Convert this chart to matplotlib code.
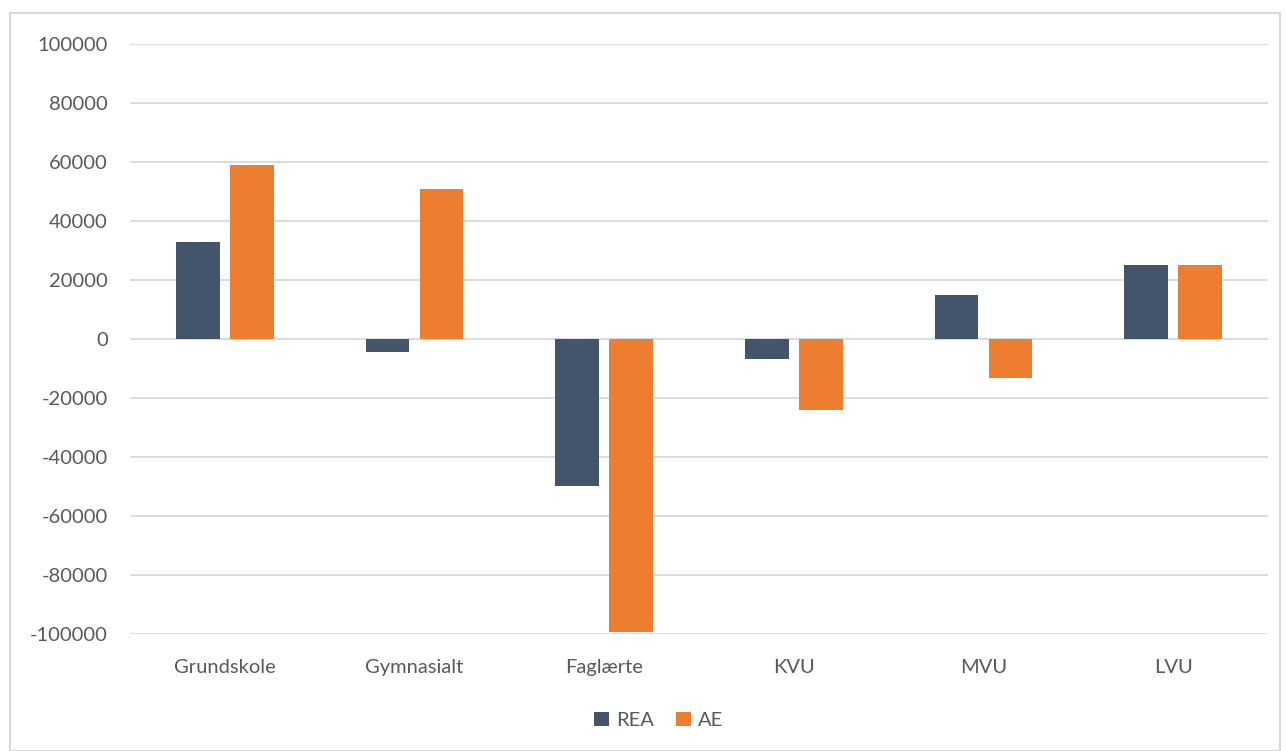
import matplotlib.pyplot as plt
import numpy as np
from matplotlib.patches import Rectangle

categories = ["Grundskole", "Gymnasialt", "Faglærte", "KVU", "MVU", "LVU"]
rea = [33000, -4500, -50000, -6900, 14800, 25000]
ae = [59000, 51000, -99500, -24200, -13100, 25000]
yticks = list(range(-100000, 100001, 20000))

plt.rcParams['font.family'] = ['Lato', 'DejaVu Sans']
text_color = "#595959"
grid_color = "#D9D9D9"

fig = plt.figure(figsize=(12.86, 7.51), dpi=100)
ax = fig.add_axes([0.101, 0.156, 0.885, 0.785])

x = np.arange(len(categories))
w = 0.23
gap = 0.055
ax.bar(x - (w + gap) / 2, rea, w, color="#44546A", label="REA", zorder=3)
ax.bar(x + (w + gap) / 2, ae, w, color="#ED7D31", label="AE", zorder=3)

ax.set_xlim(-0.5, len(categories) - 0.5)
ax.set_ylim(-100000, 100000)
ax.set_yticks(yticks)
ax.set_yticklabels([str(v) for v in yticks])
ax.set_xticks(x)
ax.set_xticklabels(categories)
ax.tick_params(axis="both", length=0, colors=text_color, labelsize=14.5)
ax.tick_params(axis="y", pad=16)
ax.tick_params(axis="x", pad=18)
ax.grid(axis="y", color=grid_color, linewidth=1.3, zorder=0)
for s in ax.spines.values():
    s.set_visible(False)

leg = fig.legend(loc="center", bbox_to_anchor=(0.512, 0.041), ncol=2, frameon=False,
                 fontsize=14.5, handlelength=0.75, handleheight=0.75, handletextpad=0.35,
                 columnspacing=1.1, labelcolor=text_color)

fig.patches.append(Rectangle((0.008, 0.0), 0.987, 0.983, transform=fig.transFigure,
                             fill=False, edgecolor=grid_color, linewidth=1.5))

fig.savefig("out.png", dpi=100)
